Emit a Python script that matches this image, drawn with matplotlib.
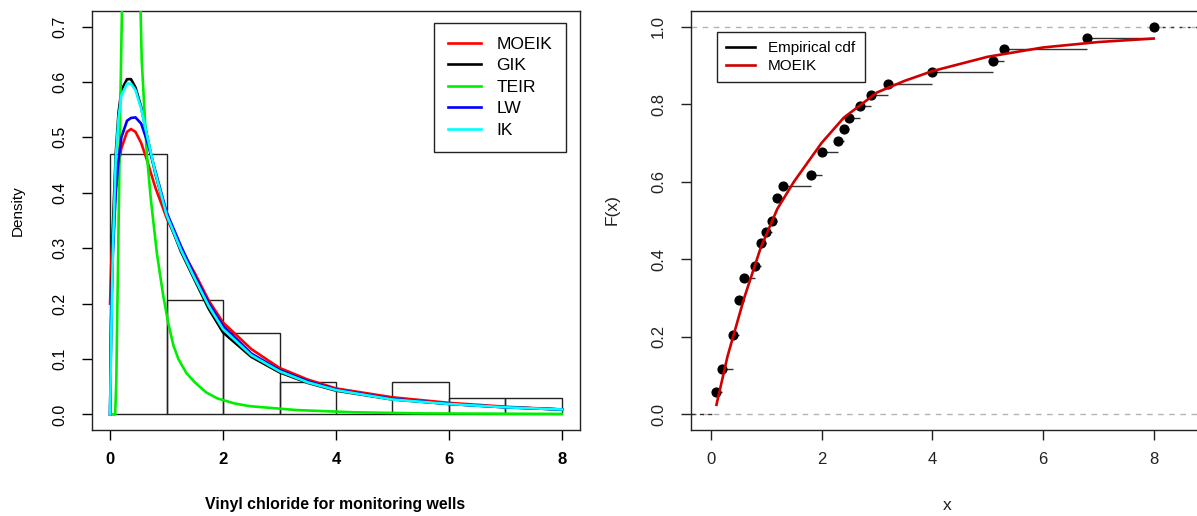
import matplotlib
matplotlib.use("Agg")
import matplotlib.pyplot as plt

plt.rcParams['font.family'] = ['Liberation Sans', 'DejaVu Sans']

# histogram of vinyl chloride (density, bins of width 1)
bin_left = [0, 1, 2, 3, 4, 5, 6, 7]
hist_density = [0.4706, 0.2059, 0.1471, 0.0588, 0.0, 0.0588, 0.0294, 0.0294]

# fitted densities
dens_x = [0, 0.02, 0.05, 0.1, 0.15, 0.2, 0.3, 0.37, 0.45, 0.55, 0.65, 0.8, 1.0,
          1.25, 1.5, 1.75, 2.0, 2.5, 3.0, 3.5, 4.0, 5.0, 6.0, 7.0, 8.0]
moeik_pdf = [0.2, 0.27, 0.33, 0.41, 0.45, 0.48, 0.51, 0.515, 0.51, 0.49, 0.46, 0.41, 0.355,
             0.3, 0.255, 0.205, 0.166, 0.118, 0.084, 0.063, 0.047, 0.031, 0.021, 0.014, 0.009]
gik_pdf = [0.0, 0.18, 0.34, 0.47, 0.545, 0.585, 0.605, 0.605, 0.59, 0.555, 0.505, 0.435, 0.36,
           0.295, 0.242, 0.19, 0.148, 0.104, 0.076, 0.057, 0.043, 0.027, 0.019, 0.013, 0.009]
lw_pdf = [0.0, 0.17, 0.29, 0.40, 0.46, 0.50, 0.53, 0.535, 0.536, 0.525, 0.495, 0.44, 0.365,
          0.305, 0.25, 0.2, 0.16, 0.11, 0.08, 0.06, 0.045, 0.028, 0.019, 0.013, 0.009]
ik_pdf = [0.0, 0.14, 0.30, 0.46, 0.535, 0.575, 0.597, 0.597, 0.585, 0.552, 0.505, 0.437, 0.36,
          0.298, 0.245, 0.195, 0.154, 0.107, 0.078, 0.058, 0.044, 0.027, 0.019, 0.013, 0.009]
teir_x = [0, 0.09, 0.11, 0.15, 0.18, 0.21, 0.3, 0.4, 0.5, 0.54, 0.56, 0.65, 0.72, 0.83,
          0.94, 1.03, 1.12, 1.21, 1.35, 1.5, 1.7, 1.9, 2.2, 2.47, 3.3, 4.3, 5.5, 8.0]
teir_pdf = [0, 0, 0.06, 0.34, 0.55, 0.73, 1.1, 1.2, 0.95, 0.73, 0.64, 0.47, 0.39, 0.29,
            0.215, 0.165, 0.125, 0.1, 0.075, 0.058, 0.04, 0.029, 0.02, 0.015, 0.008, 0.004,
            0.002, 0.001]

# empirical cdf knots and fitted MOEIK cdf
ecdf_x = [0.1, 0.2, 0.4, 0.5, 0.6, 0.8, 0.9, 1.0, 1.1, 1.2, 1.3, 1.8, 2.0, 2.3, 2.4,
          2.5, 2.7, 2.9, 3.2, 4.0, 5.1, 5.3, 6.8, 8.0]
ecdf_y = [0.059, 0.118, 0.206, 0.294, 0.353, 0.382, 0.441, 0.471, 0.500, 0.559, 0.588, 0.618,
          0.676, 0.706, 0.735, 0.765, 0.794, 0.824, 0.853, 0.882, 0.912, 0.941, 0.971, 1.000]
cdf_x = [0.1, 0.3, 0.6, 0.9, 1.2, 1.5, 1.8, 2.0, 2.4, 3.0, 3.5, 4.0, 5.0, 6.0, 7.0, 8.0]
moeik_cdf = [0.025, 0.15, 0.30, 0.43, 0.53, 0.60, 0.66, 0.70, 0.765, 0.83, 0.86, 0.885,
             0.922, 0.946, 0.96, 0.969]

W, H = 1197, 516
fig = plt.figure(figsize=(W / 100, H / 100), dpi=100)


def px_box(l, t, r, b):
    return [l / W, 1 - b / H, (r - l) / W, (b - t) / H]


ax1 = fig.add_axes(px_box(92, 11, 580, 430))
ax2 = fig.add_axes(px_box(691, 11, 1229, 430))

# ---- left: histogram + densities
ax1.bar(bin_left, hist_density, width=1, align='edge', fill=False,
        edgecolor='#222222', linewidth=1.0, zorder=2)
ax1.plot(dens_x, moeik_pdf, color='#ff0000', lw=1.9, label='MOEIK', zorder=3)
ax1.plot(dens_x, gik_pdf, color='black', lw=1.9, label='GIK', zorder=3)
ax1.plot(teir_x, teir_pdf, color='#00ee00', lw=1.9, label='TEIR', zorder=3)
ax1.plot(dens_x, lw_pdf, color='#0000ff', lw=1.9, label='LW', zorder=3)
ax1.plot(dens_x, ik_pdf, color='#00ffff', lw=1.9, label='IK', zorder=3)
ax1.set_xlim(-0.32, 8.32)
ax1.set_ylim(-0.028, 0.728)
ax1.set_xticks([0, 2, 4, 6, 8])
ax1.set_yticks([0.0, 0.1, 0.2, 0.3, 0.4, 0.5, 0.6, 0.7])
ax1.set_yticklabels(['0.0', '0.1', '0.2', '0.3', '0.4', '0.5', '0.6', '0.7'])
for lab in ax1.get_xticklabels():
    lab.set_fontweight('bold')
ax1.tick_params(axis='x', labelsize=12, pad=9)
ax1.tick_params(axis='y', labelsize=11.5, pad=11, labelrotation=90)
for lab in ax1.get_yticklabels():
    lab.set_va('center')
leg1 = ax1.legend(loc='upper right', bbox_to_anchor=(566 / W, 1 - 23 / H),
                  bbox_transform=fig.transFigure, fontsize=12.5, frameon=True,
                  fancybox=False, edgecolor='#222222', framealpha=1,
                  handlelength=1.9, handletextpad=0.9, labelspacing=0.36,
                  borderpad=0.8, borderaxespad=0)
leg1.get_frame().set_linewidth(1.0)
fig.text(18 / W, 1 - 211 / H, 'Density', rotation=90, ha='center', va='center', fontsize=11)
fig.text(335 / W, 1 - 505 / H, 'Vinyl chloride for monitoring wells', ha='center',
         va='center', fontsize=11.4, fontweight='bold')

# ---- right: ecdf + fitted cdf
xl, xr = -0.36, 9.36
ax2.axhline(0, color='#b3b3b3', lw=1, ls=(0, (4, 4)), zorder=1)
ax2.axhline(1, color='#b3b3b3', lw=1, ls=(0, (4, 4)), zorder=1)
seg_end = ecdf_x[1:] + [xr]
ax2.hlines(ecdf_y[:-1], ecdf_x[:-1], seg_end[:-1], color='#333333', lw=1.0, zorder=2)
ax2.hlines([0], [xl], [ecdf_x[0]], color='#333333', lw=1.0, ls=(0, (3, 3)), zorder=2)
ax2.hlines([1], [ecdf_x[-1]], [xr], color='#333333', lw=1.0, ls=(0, (2, 4)), zorder=2)
ax2.plot(ecdf_x, ecdf_y, 'o', color='black', ms=6.3, zorder=3)
ax2.plot(cdf_x, moeik_cdf, color='#d00000', lw=1.9, zorder=4)
ax2.plot([], [], color='black', lw=1.9, label='Empirical cdf')
ax2.plot([], [], color='#d00000', lw=1.9, label='MOEIK')
ax2.set_xlim(xl, xr)
ax2.set_ylim(-0.04, 1.04)
ax2.set_xticks([0, 2, 4, 6, 8])
ax2.set_yticks([0.0, 0.2, 0.4, 0.6, 0.8, 1.0])
ax2.set_yticklabels(['0.0', '0.2', '0.4', '0.6', '0.8', '1.0'])
ax2.tick_params(axis='x', labelsize=12, pad=9, colors='#222222')
ax2.tick_params(axis='y', labelsize=12, pad=11, labelrotation=90, colors='#222222')
for lab in ax2.get_yticklabels():
    lab.set_va('center')
leg2 = ax2.legend(loc='upper left', bbox_to_anchor=(717 / W, 1 - 32 / H),
                  bbox_transform=fig.transFigure, fontsize=11, frameon=True,
                  fancybox=False, edgecolor='#222222', framealpha=1,
                  handlelength=1.9, handletextpad=0.85, labelspacing=0.27,
                  borderpad=0.6, borderaxespad=0)
leg2.get_frame().set_linewidth(1.0)
fig.text(612 / W, 1 - 210 / H, 'F(x)', rotation=90, ha='center', va='center', fontsize=12.5,
         color='#222222')
fig.text(947 / W, 1 - 506 / H, 'x', ha='center', va='center', fontsize=12.5, color='#222222')

for ax in (ax1, ax2):
    for sp in ax.spines.values():
        sp.set_linewidth(1.0)
        sp.set_color('#222222')
    ax.tick_params(length=7, width=1.0)

fig.savefig('out.png', dpi=100)
